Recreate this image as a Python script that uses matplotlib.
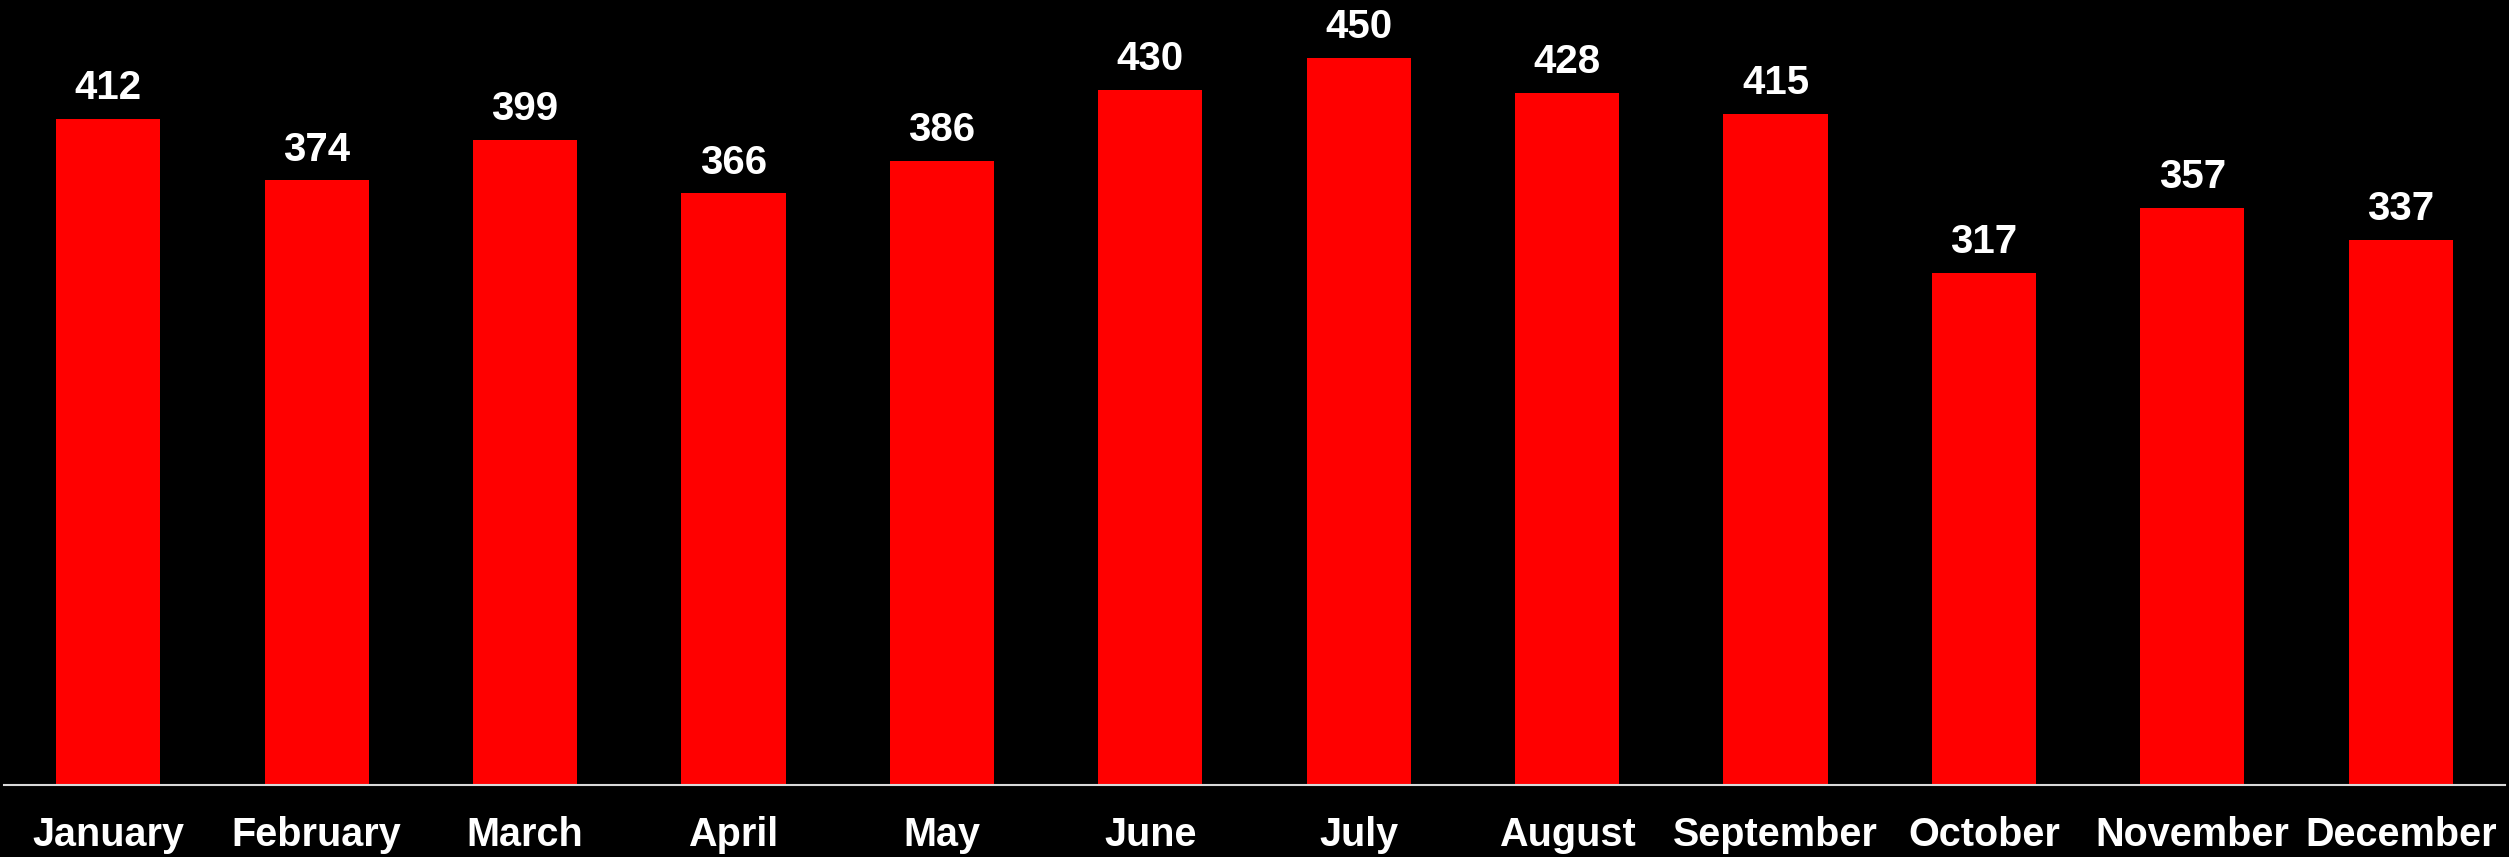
import matplotlib.pyplot as plt
import numpy as np

# monthly values
months = ["January", "February", "March", "April", "May", "June",
          "July", "August", "September", "October", "November", "December"]
values = [412, 374, 399, 366, 386, 430, 450, 428, 415, 317, 357, 337]

plt.rcParams['font.family'] = ['Liberation Sans', 'DejaVu Sans']

fig = plt.figure(figsize=(25.09, 8.57), dpi=100, facecolor="black")
ax = fig.add_axes([4 / 2509, 1 - 785 / 857, 2501 / 2509, 785 / 857])
ax.set_facecolor("black")

x = np.arange(len(months))
bars = ax.bar(x, values, width=0.5, color="#ff0000")

for b, v in zip(bars, values):
    ax.annotate(str(v), (b.get_x() + b.get_width() / 2, v),
                xytext=(0, 8.5), textcoords="offset points",
                ha="center", va="bottom", color="white",
                fontsize=29, fontweight="bold")

ax.set_xlim(-0.5, len(months) - 0.5)
ax.set_ylim(0, 785 / 1.6165)
ax.set_xticks(x)
ax.set_xticklabels(months, color="white", fontsize=28.5, fontweight="bold")
ax.tick_params(axis="x", length=0, pad=22)
ax.set_yticks([])

for s in ["top", "right", "left"]:
    ax.spines[s].set_visible(False)
ax.spines["bottom"].set_color("#d9d9d9")
ax.spines["bottom"].set_linewidth(1.5)

fig.savefig("out.png", dpi=100, facecolor="black")
